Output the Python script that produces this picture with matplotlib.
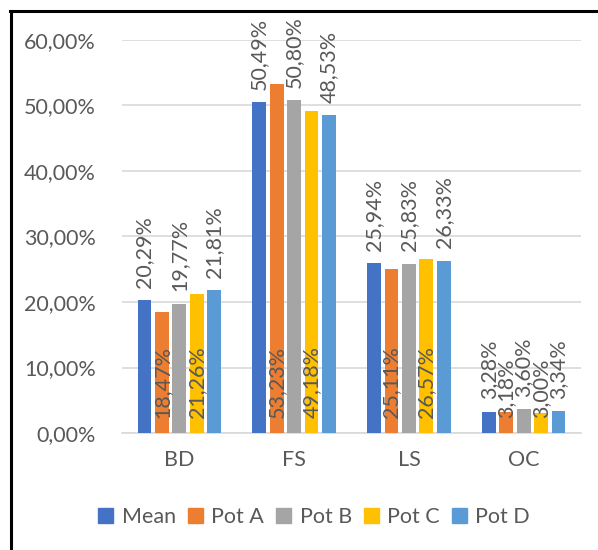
import matplotlib.pyplot as plt
import numpy as np
from matplotlib.lines import Line2D

# Share of each fraction per pot
categories = ["BD", "FS", "LS", "OC"]
series_names = ["Mean", "Pot A", "Pot B", "Pot C", "Pot D"]
mean_vals = [20.29, 50.49, 25.94, 3.28]
pot_a_vals = [18.47, 53.23, 25.11, 3.18]
pot_b_vals = [19.77, 50.80, 25.83, 3.60]
pot_c_vals = [21.26, 49.18, 26.57, 3.00]
pot_d_vals = [21.81, 48.53, 26.33, 3.34]
y_ticks = [0, 10, 20, 30, 40, 50, 60]

colors = ["#4472C4", "#ED7D31", "#A5A5A5", "#FFC000", "#5B9BD5"]
text_color = "#595959"
fs = 15.5

plt.rcParams["font.family"] = ["Lato", "DejaVu Sans"]


def pct(v):
    return f"{v:.2f}%".replace(".", ",")


fig = plt.figure(figsize=(5.98, 5.5), dpi=100)
ax = fig.add_axes([122 / 598, 1 - 433 / 550, 459 / 598, 393 / 550])

all_series = [mean_vals, pot_a_vals, pot_b_vals, pot_c_vals, pot_d_vals]
x = np.arange(len(categories))
step = 0.152
width = 0.12

for i, (vals, name, col) in enumerate(zip(all_series, series_names, colors)):
    pos = x + (i - 2) * step
    bars = ax.bar(pos, vals, width=width, color=col, label=name, zorder=3)
    for b, v in zip(bars, vals):
        cx = b.get_x() + b.get_width() / 2
        if i in (1, 3):
            # labels sitting inside the bar, at its base
            ax.annotate(pct(v), (cx, 0), xytext=(0, 11), textcoords="offset points",
                        rotation=90, ha="center", va="bottom", fontsize=fs,
                        color=text_color, zorder=4)
        else:
            ax.annotate(pct(v), (cx, v), xytext=(0, 9), textcoords="offset points",
                        rotation=90, ha="center", va="bottom", fontsize=fs,
                        color=text_color, zorder=4)

ax.set_xlim(-0.5, len(categories) - 0.5)
ax.set_ylim(0, 60)
ax.set_yticks(y_ticks)
ax.set_yticklabels([pct(t) for t in y_ticks])
ax.set_xticks(x)
ax.set_xticklabels(categories)
ax.tick_params(axis="both", length=0, labelsize=fs, labelcolor=text_color)
ax.tick_params(axis="y", pad=19)
ax.tick_params(axis="x", pad=12)
ax.grid(axis="y", color="#D9D9D9", linewidth=1.2, zorder=0)
for side in ["top", "right", "left"]:
    ax.spines[side].set_visible(False)
ax.spines["bottom"].set_color("#D9D9D9")
ax.spines["bottom"].set_linewidth(1.2)

handles = [plt.Rectangle((0, 0), 1, 1, color=c) for c in colors]
fig.legend(handles, series_names, loc="center", bbox_to_anchor=(314 / 598, 1 - 517 / 550),
           ncol=5, frameon=False, fontsize=fs, labelcolor=text_color,
           handlelength=0.7, handleheight=0.7, handletextpad=0.4, columnspacing=0.55)

# outer frame (top and left edges)
fig.add_artist(Line2D([10 / 598, 1], [1 - 11 / 550, 1 - 11 / 550], color="black", linewidth=2.2,
                      transform=fig.transFigure))
fig.add_artist(Line2D([10.5 / 598, 10.5 / 598], [0, 1 - 11 / 550], color="black", linewidth=2.2,
                      transform=fig.transFigure))

fig.savefig("out.png", dpi=100)
